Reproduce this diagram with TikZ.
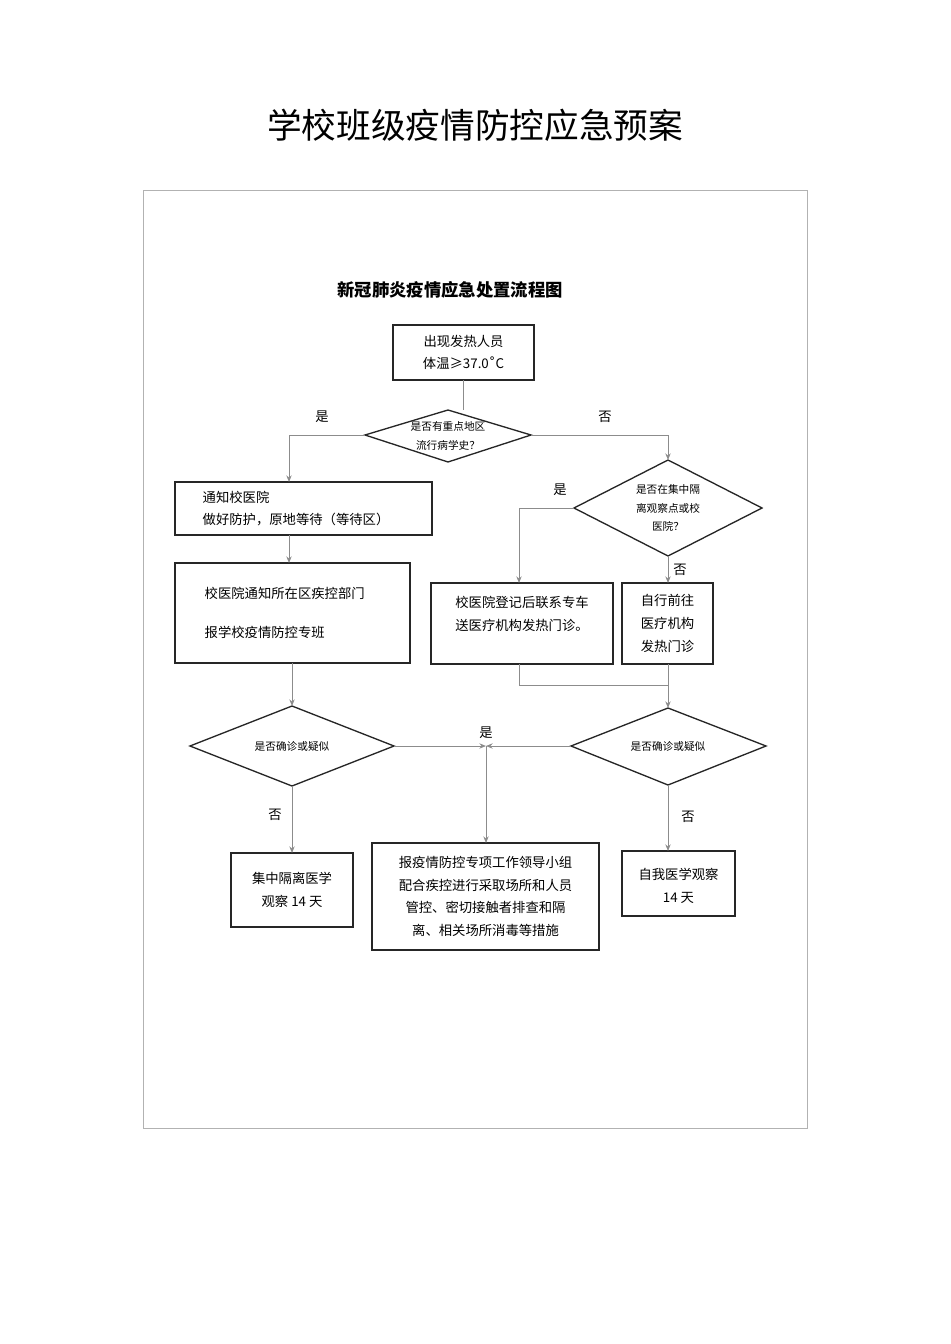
\documentclass[tikz,border=0pt]{standalone}
\usepackage{fontspec}
\setmainfont{Noto Sans CJK SC}
\newfontfamily\dv{DejaVu Sans}
\usetikzlibrary{shapes.geometric,arrows.meta}
\tikzset{
 bx/.style={draw=black!85,line width=1pt},
 ln/.style={draw=black!45,line width=0.7pt},
 ar/.style={ln,-{Stealth[length=5pt,width=4pt]}},
 t/.style={font=\fontsize{10}{17}\selectfont,align=center},
 ts/.style={font=\fontsize{8}{14}\selectfont,align=center},
 lb/.style={font=\fontsize{10}{12}\selectfont},
}
\begin{document}
\begin{tikzpicture}[x=0.75pt,y=-0.75pt]
\useasboundingbox (0,0) rectangle (950,1344);
\node[font=\fontsize{26}{30}\selectfont] (title) at (475,125) {学校班级疫情防控应急预案};
\draw[black!30,line width=0.6pt] (143,190) rectangle (807,1128);
\node[font=\bfseries\fontsize{13}{16}\selectfont] (sub) at (450,290) {新冠肺炎疫情应急处置流程图};
% boxes
\draw[bx] (393,325) rectangle (534,380);
\node[t] (b1) at (463.5,352.5) {出现发热人员\\体温≥37.0{\dv ˚}C};
\draw[bx] (175,482) rectangle (432,535);
\node[t,align=left,anchor=west] (b2) at (198,508.5) {通知校医院\\做好防护，原地等待（等待区）};
\draw[bx] (175,563) rectangle (410,663);
\node[t,align=left,anchor=west] (b3) at (200,613) {校医院通知所在区疾控部门\\[1.2em]报学校疫情防控专班};
\draw[bx] (431,583) rectangle (613,664);
\node[t] (b4) at (522,614) {校医院登记后联系专车\\送医疗机构发热门诊。};
\draw[bx] (622,583) rectangle (713,664);
\node[t] (b5) at (667.5,623.5) {自行前往\\医疗机构\\发热门诊};
\draw[bx] (231,853) rectangle (353,927);
\node[t] (b6) at (292,890) {集中隔离医学\\观察 14 天};
\draw[bx] (372,843) rectangle (599,950);
\node[t] (b7) at (485.5,896.5) {报疫情防控专项工作领导小组\\配合疾控进行采取场所和人员\\管控、密切接触者排查和隔\\离、相关场所消毒等措施};
\draw[bx] (622,851) rectangle (735,916);
\node[t] (b8) at (678.5,886) {自我医学观察\\14 天};
% diamonds
\draw[bx] (365,435)--(448,410)--(531,435)--(448,462)--cycle;
\node[ts] (d1) at (448,436) {是否有重点地区\\流行病学史？};
\draw[bx] (574,508)--(668,460)--(762,508)--(668,556)--cycle;
\node[ts] (d2) at (668,508) {是否在集中隔\\离观察点或校\\医院？};
\draw[bx] (190,746)--(292,706)--(394,746)--(292,786)--cycle;
\node[ts] (d3) at (292,746) {是否确诊或疑似};
\draw[bx] (571,746)--(668,708)--(766,746)--(668,785)--cycle;
\node[ts] (d4) at (668,746) {是否确诊或疑似};
% coordinates
\coordinate (c1) at (289,435); \coordinate (c2) at (668,435);
\coordinate (c3) at (519,508); \coordinate (c4) at (519,685);
\coordinate (c5) at (668,685); \coordinate (m) at (486,746);
% connectors
\draw[ln] (463.5,380) -- (463.5,410);
\draw[ar] (365,435) -- (c1) -- (289,482);
\draw[ar] (531,435) -- (c2) -- (668,460);
\draw[ar] (289,535) -- (289,563);
\draw[ar] (574,508) -- (c3) -- (519,583);
\draw[ar] (668,556) -- (668,583);
\draw[ln] (519,664) -- (c4) -- (c5);
\draw[ar] (668,664) -- (668,708);
\draw[ar] (292,663) -- (292,706);
\draw[ar] (394,746) -- (m);
\draw[ar] (571,746) -- (m);
\draw[ar] (m) -- (486,843);
\draw[ar] (292,786) -- (292,853);
\draw[ar] (668,785) -- (668,851);
% labels
\node[lb] (l1) at (322,417) {是};
\node[lb] (l2) at (605,417) {否};
\node[lb] (l3) at (560,490) {是};
\node[lb] (l4) at (680,570) {否};
\node[lb] (l5) at (486,733) {是};
\node[lb] (l6) at (275,815) {否};
\node[lb] (l7) at (688,817) {否};
\end{tikzpicture}
\end{document}
